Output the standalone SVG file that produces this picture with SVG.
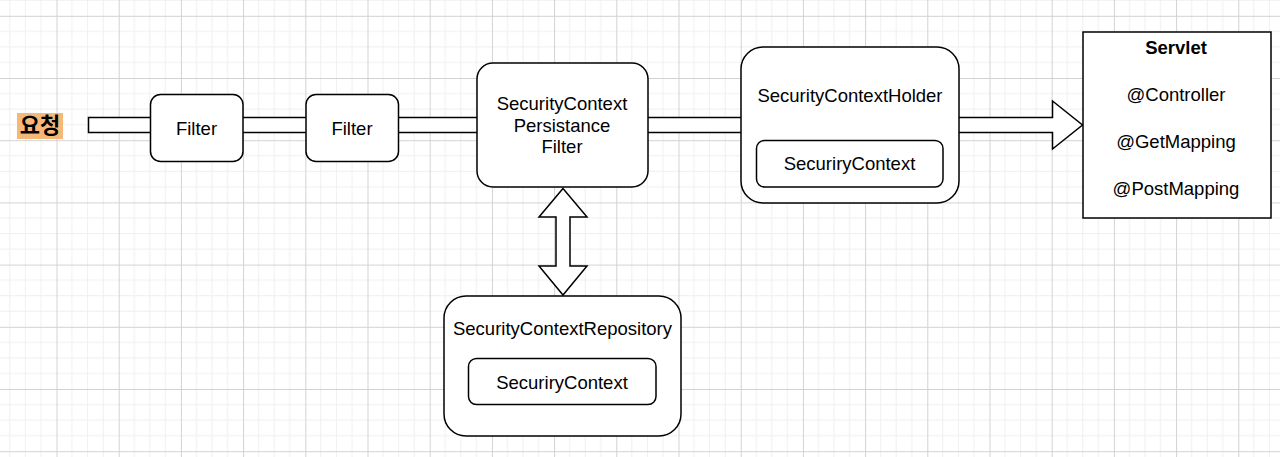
<svg xmlns="http://www.w3.org/2000/svg" width="1280" height="457" viewBox="0 0 1280 457">
  <defs>
    <pattern id="grid" x="56.5" y="15.8" width="62.2" height="62.2" patternUnits="userSpaceOnUse">
      <path d="M15.55 0V62.2M31.1 0V62.2M46.65 0V62.2M0 15.55H62.2M0 31.1H62.2M0 46.65H62.2" stroke="#efefef" stroke-width="1" fill="none"/>
      <path d="M0.5 0V62.2M0 0.5H62.2" stroke="#d2d2d2" stroke-width="1" fill="none"/>
    </pattern>
    <style>
      .box { fill: #ffffff; stroke: #000000; stroke-width: 1.5; }
      .band { fill: #ffffff; stroke: #000000; stroke-width: 1.5; }
      .t { font-family: "Liberation Sans", Arial, sans-serif; font-size: 18.5px; fill: #000000; text-anchor: middle; }
      .b { font-weight: bold; }
    </style>
  </defs>

  <rect x="0" y="0" width="1280" height="457" fill="#ffffff"/>
  <rect x="0" y="0" width="1280" height="457" fill="url(#grid)"/>

  <g id="connectors">
    <rect class="band" x="88.5" y="117.5" width="64" height="15"/>
    <rect class="band" x="240" y="117.5" width="68" height="15"/>
    <rect class="band" x="395" y="117.5" width="85" height="15"/>
    <rect class="band" x="645" y="117.5" width="99" height="15"/>
    <polygon class="band" points="956,117.5 1052.5,117.5 1052.5,101 1082.5,125 1052.5,149 1052.5,132.5 956,132.5"/>
    <polygon class="band" points="563,188.5 587,217 570,217 570,266 587,266 563,295 539,266 556,266 556,217 539,217"/>
  </g>

  <g id="request">
    <rect x="17" y="113" width="46" height="26" fill="#f6b878"/>
    <text x="40" y="132.5" font-family="'Noto Sans CJK KR', 'Noto Sans', sans-serif" font-size="22" font-weight="bold" text-anchor="middle" fill="#000000">요청</text>
  </g>

  <g id="filter1">
    <rect class="box" x="150.5" y="94.5" width="92.5" height="67" rx="10"/>
    <text class="t" x="196.5" y="135">Filter</text>
  </g>

  <g id="filter2">
    <rect class="box" x="306" y="94.5" width="92.5" height="67" rx="10"/>
    <text class="t" x="352" y="135">Filter</text>
  </g>

  <g id="persistence-filter">
    <rect class="box" x="477" y="63" width="171" height="124" rx="16"/>
    <text class="t" x="562" y="110">SecurityContext</text>
    <text class="t" x="562" y="131.5">Persistance</text>
    <text class="t" x="562" y="153">Filter</text>
  </g>

  <g id="holder">
    <rect class="box" x="741" y="47" width="218" height="156" rx="22"/>
    <text class="t" x="850" y="101.5">SecurityContextHolder</text>
    <rect class="box" x="756.5" y="140.5" width="186.5" height="46.5" rx="8"/>
    <text class="t" x="849.5" y="170">SecuriryContext</text>
  </g>

  <g id="servlet">
    <rect class="box" x="1083" y="32" width="188" height="186"/>
    <text class="t b" x="1176" y="54">Servlet</text>
    <text class="t" x="1176" y="101">@Controller</text>
    <text class="t" x="1176" y="148">@GetMapping</text>
    <text class="t" x="1176" y="195">@PostMapping</text>
  </g>

  <g id="repository">
    <rect class="box" x="444" y="296" width="237" height="140" rx="22"/>
    <text class="t" x="562.5" y="334.5">SecurityContextRepository</text>
    <rect class="box" x="468.5" y="358.5" width="187.5" height="46" rx="8"/>
    <text class="t" x="562" y="388.5">SecuriryContext</text>
  </g>
</svg>
